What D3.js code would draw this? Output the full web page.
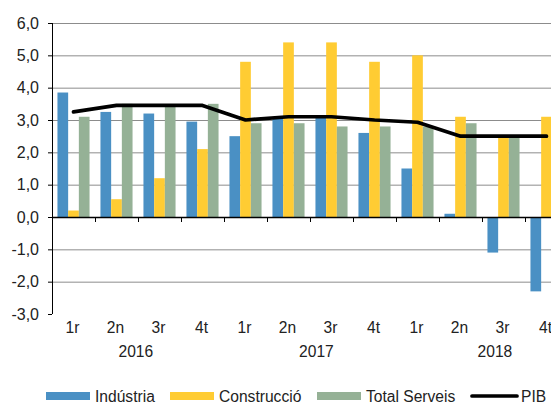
<!DOCTYPE html>
<html>
<head>
<meta charset="utf-8">
<script src="https://cdn.jsdelivr.net/npm/d3@7"></script>
<style>
  body { margin: 0; background: #fff; }
  svg { display: block; font-family: "Liberation Sans", Arial, sans-serif; }
</style>
</head>
<body>
<div id="chart"></div>
<script>
// quarters and years (multi-level axis)
const quarters = ["1r", "2n", "3r", "4t", "1r", "2n", "3r", "4t", "1r", "2n", "3r", "4t"];
const years = ["2016", "2017", "2018"];
const yearPos = [1.95, 6.15, 10.3]; // label centre, in quarter units

const seriesNames = ["Indústria", "Construcció", "Total Serveis"];
const industria = [3.85, 3.25, 3.2, 2.95, 2.5, 3.05, 3.1, 2.6, 1.5, 0.1, -1.1, -2.3];
const construccio = [0.2, 0.55, 1.2, 2.1, 4.8, 5.4, 5.4, 4.8, 5.0, 3.1, 2.5, 3.1];
const serveis = [3.1, 3.5, 3.45, 3.5, 2.9, 2.9, 2.8, 2.8, 2.8, 2.9, 2.5, 2.9];
const pib = [3.25, 3.45, 3.45, 3.45, 3.0, 3.1, 3.1, 3.0, 2.93, 2.5, 2.5, 2.5];

const yTicks = [-3, -2, -1, 0, 1, 2, 3, 4, 5, 6];
const colors = ["#4a90c4", "#ffcc33", "#95b196"];

const W = 551, H = 403;
const mLeft = 52, mTop = 23, plotW = 516, plotH = 291;
const fs = 15.6;

const svg = d3.select("#chart").append("svg")
  .attr("width", W)
  .attr("height", H);

const g = svg.append("g").attr("transform", `translate(${mLeft},${mTop})`);

const idx = d3.range(quarters.length);
const x0 = d3.scaleBand().domain(idx).range([0, plotW]).padding(0);
const x1 = d3.scaleBand().domain(d3.range(3)).range([0, x0.bandwidth()])
  .paddingInner(0).paddingOuter(0.51);
const y = d3.scaleLinear().domain([-3, 6]).range([plotH, 0]);

const fmt = d => d.toFixed(1).replace(".", ",");

// gridlines
g.selectAll(".grid")
  .data(yTicks.filter(t => t !== 0 && t !== -3))
  .enter().append("line")
  .attr("x1", 0).attr("x2", plotW)
  .attr("y1", d => y(d) + 0.5).attr("y2", d => y(d) + 0.5)
  .attr("stroke", "#8c8c8c")
  .attr("stroke-width", 1);

// bars
const data = [industria, construccio, serveis];
const groups = g.selectAll(".grp")
  .data(data)
  .enter().append("g")
  .attr("fill", (d, i) => colors[i]);

groups.each(function (vals, si) {
  d3.select(this).selectAll("rect")
    .data(vals)
    .enter().append("rect")
    .attr("x", (v, i) => x0(i) + x1(si))
    .attr("width", x1.bandwidth())
    .attr("y", v => y(Math.max(0, v)))
    .attr("height", v => Math.abs(y(v) - y(0)));
});

// zero line with ticks
const xAxis = d3.axisBottom(x0).tickSize(5).tickFormat("");
const xg = g.append("g")
  .attr("transform", `translate(0,${y(0)})`)
  .call(xAxis);
xg.selectAll(".tick").attr("transform", d => `translate(${x0(d) + 0.5},0)`);
xg.select(".domain").attr("d", `M0,0.5H${plotW}`);
xg.selectAll("line").attr("stroke", "#000");
xg.select(".domain").attr("stroke", "#000").attr("stroke-width", 1.3);

// y axis
const yAxis = d3.axisLeft(y).tickValues(yTicks).tickSize(4).tickPadding(9).tickFormat(fmt);
const yg = g.append("g").call(yAxis);
yg.select(".domain").attr("d", `M0.5,0V${plotH}`).attr("stroke", "#000");
yg.selectAll("line").attr("stroke", "#000");
yg.selectAll("text").attr("font-size", fs + 0.4).attr("fill", "#222")
  .attr("font-family", "Liberation Sans, Arial, sans-serif");

// quarter labels
g.selectAll(".q")
  .data(quarters)
  .enter().append("text")
  .attr("x", (d, i) => x0(i) + x0.bandwidth() / 2 - 1)
  .attr("y", plotH + 19)
  .attr("text-anchor", "middle")
  .attr("font-size", fs)
  .attr("fill", "#222")
  .text(d => d);

// year labels
g.selectAll(".yr")
  .data(years)
  .enter().append("text")
  .attr("x", (d, i) => yearPos[i] * x0.step())
  .attr("y", plotH + 43)
  .attr("text-anchor", "middle")
  .attr("font-size", fs)
  .attr("fill", "#222")
  .text(d => d);

// PIB line
const line = d3.line()
  .x((d, i) => x0(i) + x0.bandwidth() / 2)
  .y(d => y(d));
g.append("path")
  .datum(pib)
  .attr("d", line)
  .attr("fill", "none")
  .attr("stroke", "#000")
  .attr("stroke-width", 3.7)
  .attr("stroke-linecap", "round")
  .attr("stroke-linejoin", "round");

// legend
const legend = [
  { name: seriesNames[0], color: colors[0], x: 46, type: "rect" },
  { name: seriesNames[1], color: colors[1], x: 170, type: "rect" },
  { name: seriesNames[2], color: colors[2], x: 317, type: "rect" },
  { name: "PIB", color: "#000", x: 472, type: "line" }
];
const lg = svg.append("g").attr("transform", "translate(0,396)");
legend.forEach(l => {
  if (l.type === "rect") {
    lg.append("rect").attr("x", l.x).attr("y", -4).attr("width", 44).attr("height", 8).attr("fill", l.color);
  } else {
    lg.append("line").attr("x1", l.x).attr("x2", l.x + 45).attr("y1", 0).attr("y2", 0)
      .attr("stroke", l.color).attr("stroke-width", 3.7).attr("stroke-linecap", "round");
  }
  lg.append("text")
    .attr("x", l.x + 49)
    .attr("y", 5.5)
    .attr("font-size", fs)
    .attr("fill", "#222")
    .text(l.name);
});
</script>
</body>
</html>
